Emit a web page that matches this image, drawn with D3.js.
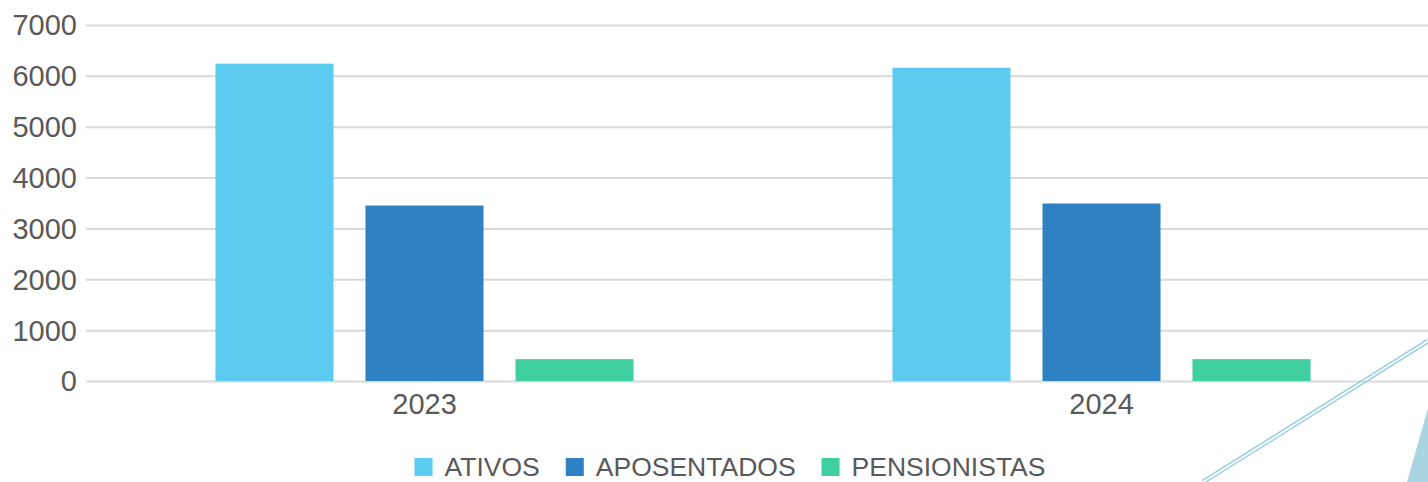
<!DOCTYPE html>
<html>
<head>
<meta charset="utf-8">
<script src="https://cdn.jsdelivr.net/npm/d3@7"></script>
<style>
  html, body { margin: 0; padding: 0; background: #ffffff; }
  svg { display: block; }
  text { font-family: "Liberation Sans", Arial, sans-serif; fill: #595959; }
</style>
</head>
<body>
<svg id="chart" width="1428" height="482"></svg>
<script>
const categories = ["2023", "2024"];
const seriesNames = ["ATIVOS", "APOSENTADOS", "PENSIONISTAS"];
const ativos = [6240, 6160];
const aposentados = [3450, 3490];
const pensionistas = [430, 430];
const yTicks = [0, 1000, 2000, 3000, 4000, 5000, 6000, 7000];
const colors = ["#5BCBF0", "#2E81C2", "#40CFA0"];

const seriesValues = [ativos, aposentados, pensionistas];
const data = categories.map((c, i) => ({
  cat: c,
  vals: seriesNames.map((s, j) => ({ key: s, value: seriesValues[j][i], color: colors[j] }))
}));

const W = 1428, H = 482;
const plotLeft = 86, plotRight = 1440, plotTop = 25, plotBottom = 381;
const svg = d3.select("#chart");

const y = d3.scaleLinear().domain([0, 7000]).range([plotBottom, plotTop]);
const x0 = d3.scaleBand().domain(categories).range([plotLeft, plotRight]).padding(0);
const x1 = d3.scaleBand().domain(seriesNames).range([0, x0.bandwidth()])
  .paddingInner(32 / 150).paddingOuter(0.863);

// Y axis with gridlines
const yAxis = svg.append("g")
  .attr("transform", `translate(${plotLeft},0)`)
  .call(d3.axisLeft(y).tickValues(yTicks).tickSizeInner(-(W - plotLeft)).tickSizeOuter(0).tickPadding(9).tickFormat(d3.format("d")));
yAxis.select(".domain").remove();
yAxis.selectAll(".tick line").attr("stroke", "#D9D9D9").attr("stroke-width", 2);
yAxis.selectAll(".tick text")
  .style("font-family", "'Liberation Sans', Arial, sans-serif")
  .style("font-size", "29px").attr("fill", "#595959").attr("dy", "0.34em");

// Bars
const groups = svg.append("g").selectAll("g").data(data).join("g")
  .attr("transform", d => `translate(${x0(d.cat)},0)`);
groups.selectAll("rect").data(d => d.vals).join("rect")
  .attr("x", d => x1(d.key))
  .attr("width", x1.bandwidth())
  .attr("y", d => y(d.value))
  .attr("height", d => y(0) - y(d.value))
  .attr("fill", d => d.color);

// X axis labels
const xAxis = svg.append("g")
  .attr("transform", `translate(0,${plotBottom})`)
  .call(d3.axisBottom(x0).tickSize(0).tickPadding(12));
xAxis.select(".domain").remove();
xAxis.selectAll(".tick text")
  .style("font-family", "'Liberation Sans', Arial, sans-serif")
  .style("font-size", "29px").attr("fill", "#595959");

// Decorative shapes bottom-right
const deco = svg.append("g");
const p1 = [1203, 482], p2 = [1428, 341];
const ddx = p2[0] - p1[0], ddy = p2[1] - p1[1];
const len = Math.hypot(ddx, ddy);
const nx = -ddy / len, ny = ddx / len;
[-1.6, 1.6].forEach(o => {
  deco.append("line")
    .attr("x1", p1[0] + nx * o).attr("y1", p1[1] + ny * o)
    .attr("x2", p2[0] + nx * o).attr("y2", p2[1] + ny * o)
    .attr("stroke", "#93CEDF").attr("stroke-width", 1.3);
});
deco.append("polygon")
  .attr("points", "1407,482 1428,408 1428,482")
  .attr("fill", "#A9D5E2");

// Legend
const legend = svg.append("g");
let cx = 0;
seriesNames.forEach((s, i) => {
  const g = legend.append("g").attr("transform", `translate(${cx},0)`);
  g.append("rect").attr("x", 0).attr("y", 458).attr("width", 18).attr("height", 18).attr("fill", colors[i]);
  const t = g.append("text").attr("x", 30).attr("y", 476).text(s)
    .style("font-family", "'Liberation Sans', Arial, sans-serif")
    .style("font-size", "26.5px").attr("fill", "#595959");
  cx += 30 + t.node().getComputedTextLength() + 26;
});
const totalW = cx - 26;
legend.attr("transform", `translate(${730 - totalW / 2},0)`);
</script>
</body>
</html>
